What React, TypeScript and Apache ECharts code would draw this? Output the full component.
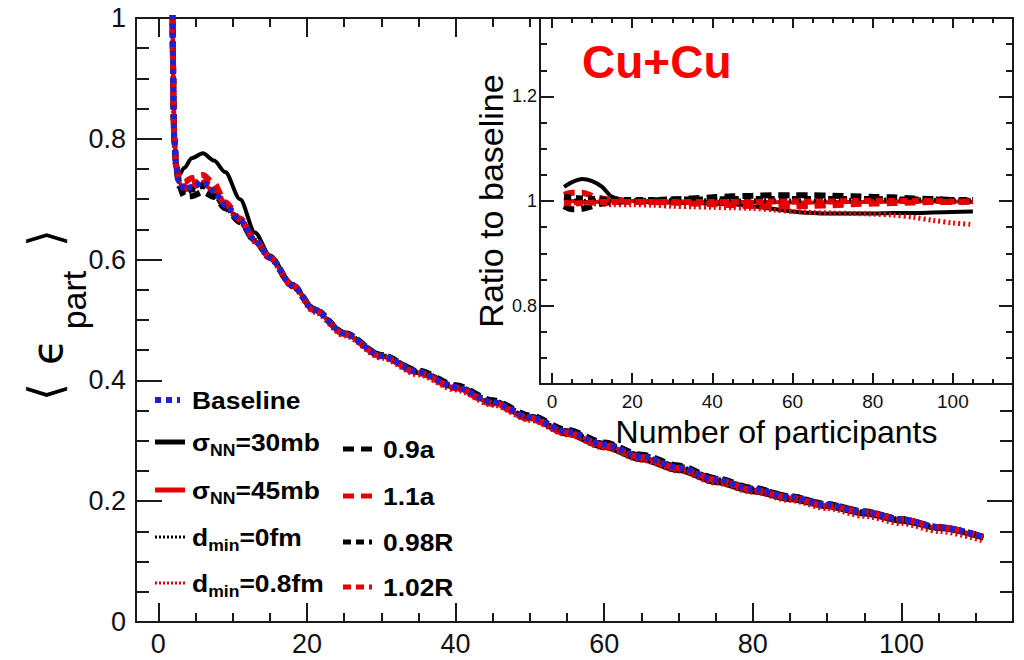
import React, { useEffect, useRef } from 'react';
import * as echarts from 'echarts';

// ---------- data ----------
const MAIN_X = [1.9, 2.15, 2.4, 2.8, 3.5, 4.5, 6, 7.5, 9, 11, 13, 15, 18, 21, 25, 30, 35, 40, 45, 50, 55, 60, 65, 70, 75, 80, 85, 90, 95, 100, 105, 111];
const MAIN_BASELINE = [1.02, 0.8, 0.755, 0.73, 0.716, 0.72, 0.728, 0.713, 0.69, 0.665, 0.632, 0.604, 0.558, 0.517, 0.478, 0.441, 0.414, 0.389, 0.364, 0.339, 0.315, 0.294, 0.274, 0.256, 0.236, 0.22, 0.207, 0.194, 0.182, 0.17, 0.157, 0.141];
const MAIN_SNN30 = [1.02, 0.8, 0.757, 0.74, 0.752, 0.768, 0.776, 0.764, 0.745, 0.7, 0.645, 0.607, 0.56, 0.517, 0.477, 0.44, 0.412, 0.387, 0.362, 0.336, 0.31, 0.288, 0.268, 0.25, 0.23, 0.215, 0.202, 0.19, 0.178, 0.166, 0.154, 0.138];
const MAIN_SNN45 = [1.02, 0.8, 0.755, 0.728, 0.714, 0.718, 0.726, 0.712, 0.689, 0.664, 0.631, 0.603, 0.557, 0.516, 0.477, 0.44, 0.413, 0.388, 0.363, 0.338, 0.314, 0.293, 0.273, 0.255, 0.235, 0.219, 0.206, 0.193, 0.181, 0.169, 0.156, 0.14];
const MAIN_DMIN0 = [1.02, 0.8, 0.755, 0.729, 0.715, 0.72, 0.727, 0.713, 0.69, 0.665, 0.632, 0.604, 0.558, 0.517, 0.478, 0.441, 0.414, 0.389, 0.364, 0.339, 0.315, 0.294, 0.274, 0.256, 0.236, 0.22, 0.207, 0.194, 0.182, 0.17, 0.157, 0.141];
const MAIN_DMIN08 = [1.02, 0.8, 0.755, 0.73, 0.716, 0.721, 0.728, 0.712, 0.688, 0.662, 0.629, 0.601, 0.555, 0.513, 0.474, 0.437, 0.409, 0.384, 0.359, 0.334, 0.31, 0.288, 0.268, 0.25, 0.23, 0.215, 0.201, 0.188, 0.175, 0.163, 0.15, 0.134];
const MAIN_A09 = [1.02, 0.8, 0.752, 0.722, 0.704, 0.705, 0.712, 0.704, 0.685, 0.662, 0.631, 0.603, 0.557, 0.517, 0.478, 0.442, 0.416, 0.392, 0.367, 0.342, 0.318, 0.297, 0.277, 0.259, 0.238, 0.222, 0.208, 0.195, 0.183, 0.17, 0.157, 0.141];
const MAIN_A11 = [1.02, 0.8, 0.757, 0.735, 0.728, 0.735, 0.74, 0.726, 0.695, 0.668, 0.633, 0.604, 0.558, 0.517, 0.477, 0.44, 0.412, 0.387, 0.361, 0.336, 0.312, 0.291, 0.272, 0.254, 0.235, 0.219, 0.206, 0.193, 0.182, 0.17, 0.157, 0.141];
const MAIN_R098 = [1.02, 0.8, 0.755, 0.727, 0.712, 0.716, 0.722, 0.709, 0.688, 0.664, 0.632, 0.604, 0.558, 0.518, 0.479, 0.442, 0.415, 0.39, 0.365, 0.34, 0.316, 0.295, 0.275, 0.257, 0.237, 0.221, 0.208, 0.195, 0.183, 0.17, 0.157, 0.141];
const MAIN_R102 = [1.02, 0.8, 0.756, 0.732, 0.72, 0.725, 0.732, 0.717, 0.692, 0.666, 0.632, 0.604, 0.558, 0.516, 0.477, 0.44, 0.413, 0.388, 0.363, 0.338, 0.314, 0.293, 0.273, 0.255, 0.236, 0.219, 0.206, 0.193, 0.182, 0.17, 0.157, 0.141];

const RATIO_X = [3, 5, 7.5, 10, 12.5, 15, 20, 25, 30, 35, 40, 45, 50, 55, 60, 65, 70, 75, 80, 85, 90, 95, 100, 105];
const RATIO_SNN30 = [1.027, 1.036, 1.042, 1.038, 1.027, 1.008, 1.0, 0.998, 0.997, 0.996, 0.995, 0.994, 0.99, 0.985, 0.98, 0.977, 0.976, 0.976, 0.976, 0.977, 0.977, 0.978, 0.979, 0.98];
const RATIO_SNN45 = [1.003, 1.0, 0.998, 0.998, 0.999, 1.0, 1.0, 1.0, 0.999, 0.999, 0.998, 0.998, 0.998, 0.998, 0.997, 0.997, 0.998, 0.998, 0.998, 0.999, 0.999, 0.999, 0.999, 0.998];
const RATIO_DMIN0 = [1.0, 1.0, 0.999, 1.0, 1.0, 1.0, 1.0, 1.0, 1.001, 1.001, 1.0, 1.0, 1.0, 1.0, 1.0, 1.0, 1.0, 1.001, 1.001, 1.002, 1.002, 1.001, 1.0, 1.0];
const RATIO_DMIN08 = [0.998, 0.997, 0.996, 0.995, 0.994, 0.993, 0.993, 0.992, 0.99, 0.989, 0.988, 0.987, 0.986, 0.983, 0.98, 0.978, 0.977, 0.976, 0.975, 0.973, 0.969, 0.963, 0.958, 0.955];
const RATIO_A09 = [0.99, 0.984, 0.985, 0.99, 0.995, 0.998, 1.0, 1.001, 1.003, 1.005, 1.007, 1.009, 1.01, 1.011, 1.011, 1.011, 1.01, 1.009, 1.008, 1.007, 1.005, 1.004, 1.002, 1.0];
const RATIO_A11 = [1.012, 1.016, 1.016, 1.01, 1.005, 1.002, 1.0, 0.998, 0.997, 0.995, 0.994, 0.992, 0.99, 0.99, 0.99, 0.991, 0.992, 0.994, 0.995, 0.996, 0.997, 0.998, 0.998, 0.999];
const RATIO_R098 = [1.008, 1.006, 1.005, 1.004, 1.003, 1.002, 1.002, 1.002, 1.003, 1.003, 1.003, 1.004, 1.004, 1.004, 1.004, 1.004, 1.004, 1.004, 1.004, 1.003, 1.003, 1.003, 1.002, 1.002];
const RATIO_R102 = [0.996, 0.995, 0.996, 0.997, 0.998, 0.998, 0.998, 0.998, 0.998, 0.998, 0.998, 0.998, 0.998, 0.999, 0.999, 0.999, 0.999, 1.0, 1.0, 1.0, 1.0, 1.0, 0.999, 0.999];

// tick positions / labels
const MAIN_X_MAJOR = [0, 20, 40, 60, 80, 100];
const MAIN_X_MINOR = [5, 10, 15, 25, 30, 35, 45, 50, 55, 65, 70, 75, 85, 90, 95, 105, 110];
const MAIN_X_TOP_MAJOR = [0, 20, 40];
const MAIN_X_TOP_MINOR = [5, 10, 15, 25, 30, 35, 45, 50];
const MAIN_Y_MAJOR = [0, 0.2, 0.4, 0.6, 0.8, 1];
const MAIN_Y_MINOR = [0.05, 0.1, 0.15, 0.25, 0.3, 0.35, 0.45, 0.5, 0.55, 0.65, 0.7, 0.75, 0.85, 0.9, 0.95];
const MAIN_Y_RIGHT_MAJOR = [0.2];
const MAIN_Y_RIGHT_MINOR = [0.05, 0.1, 0.15, 0.25, 0.3, 0.35];
const INSET_X_MAJOR = [0, 20, 40, 60, 80, 100];
const INSET_X_MINOR = [5, 10, 15, 25, 30, 35, 45, 50, 55, 65, 70, 75, 85, 90, 95, 105, 110];
const INSET_Y_MAJOR = [0.8, 1, 1.2];
const INSET_Y_MINOR = [0.7, 0.75, 0.85, 0.9, 0.95, 1.05, 1.1, 1.15, 1.25, 1.3];

const INSET_TITLE = 'Cu+Cu';
const INSET_X_NAME = 'Number of participants';
const INSET_Y_NAME = 'Ratio to baseline';

// legend texts: [text, isSubscript]
const LEG_BASE: [string, boolean][] = [['Baseline', false]];
const LEG_SNN30: [string, boolean][] = [['σ', false], ['NN', true], ['=30mb', false]];
const LEG_SNN45: [string, boolean][] = [['σ', false], ['NN', true], ['=45mb', false]];
const LEG_DMIN0: [string, boolean][] = [['d', false], ['min', true], ['=0fm', false]];
const LEG_DMIN08: [string, boolean][] = [['d', false], ['min', true], ['=0.8fm', false]];
const LEG_A09: [string, boolean][] = [['0.9a', false]];
const LEG_A11: [string, boolean][] = [['1.1a', false]];
const LEG_R098: [string, boolean][] = [['0.98R', false]];
const LEG_R102: [string, boolean][] = [['1.02R', false]];

const BLACK = '#000000';
const RED = '#e60000';
const BLUE = '#1f1fd6';
const AX = '#1a1a1a';

type Spec = {
  main: number[]; ratio: number[] | null; color: string; width: number; dash: any;
  leg: [string, boolean][]; col: number; row: number; legWidth: number; legDash: any;
};

const SPECS: Spec[] = [
  { main: MAIN_SNN30, ratio: RATIO_SNN30, color: BLACK, width: 4, dash: 'solid', leg: LEG_SNN30, col: 0, row: 1, legWidth: 5, legDash: 'solid' },
  { main: MAIN_SNN45, ratio: RATIO_SNN45, color: RED, width: 4, dash: 'solid', leg: LEG_SNN45, col: 0, row: 2, legWidth: 5, legDash: 'solid' },
  { main: MAIN_DMIN0, ratio: RATIO_DMIN0, color: BLACK, width: 5, dash: [2, 3], leg: LEG_DMIN0, col: 0, row: 3, legWidth: 3, legDash: [2, 2] },
  { main: MAIN_DMIN08, ratio: RATIO_DMIN08, color: RED, width: 5, dash: [2, 3], leg: LEG_DMIN08, col: 0, row: 4, legWidth: 3, legDash: [2, 2] },
  { main: MAIN_A09, ratio: RATIO_A09, color: BLACK, width: 6, dash: [11, 7], leg: LEG_A09, col: 1, row: 0, legWidth: 5, legDash: [11, 7] },
  { main: MAIN_A11, ratio: RATIO_A11, color: RED, width: 6, dash: [11, 7], leg: LEG_A11, col: 1, row: 1, legWidth: 5, legDash: [11, 7] },
  { main: MAIN_R098, ratio: RATIO_R098, color: BLACK, width: 6, dash: [7, 5], leg: LEG_R098, col: 1, row: 2, legWidth: 5, legDash: [8, 5] },
  { main: MAIN_R102, ratio: RATIO_R102, color: RED, width: 6, dash: [7, 5], leg: LEG_R102, col: 1, row: 3, legWidth: 5, legDash: [8, 5] },
  { main: MAIN_BASELINE, ratio: null, color: BLUE, width: 6, dash: [5, 4], leg: LEG_BASE, col: 0, row: 0, legWidth: 6, legDash: [6, 5] },
];

const FONT = 'Liberation Sans';
const LEG_SCALE = 1.1;

function valueAxis(o: any) {
  return {
    type: 'value',
    splitLine: { show: false },
    axisLine: { show: false, onZero: false, lineStyle: { color: AX, width: 2 } },
    axisLabel: { show: false },
    ...o,
  };
}
function ticks(values: number[], length: number) {
  return { show: true, inside: true, length, customValues: values, lineStyle: { color: AX, width: 2 } };
}

export default function App() {
  const ref = useRef<HTMLDivElement>(null);
  useEffect(() => {
    if (!ref.current) return;
    const chart = echarts.init(ref.current, undefined, { renderer: 'svg' });

    const ctx = document.createElement('canvas').getContext('2d')!;
    const measure = (t: string, size: number) => {
      ctx.font = `bold ${size}px "${FONT}"`;
      return ctx.measureText(t).width;
    };

    const colDefs = [
      { x1: 155, x2: 185, tx: 192, ys: [400, 442, 490, 537, 583] },
      { x1: 343, x2: 372, tx: 383, ys: [449, 496, 542, 587] },
    ];
    const graphics: any[] = [];
    SPECS.forEach((s) => {
      const c = colDefs[s.col];
      const yc = c.ys[s.row];
      const x2 = s.leg === LEG_BASE ? 180 : c.x2;
      graphics.push({
        type: 'line', z: 100,
        shape: { x1: c.x1, y1: yc, x2, y2: yc },
        style: { stroke: s.color, lineWidth: s.legWidth, lineDash: s.legDash === 'solid' ? null : s.legDash },
      });
      let x = c.tx;
      s.leg.forEach(([t, sub]) => {
        const size = sub ? 16 : 24;
        graphics.push({
          type: 'text', z: 100, x, y: sub ? yc + 9 : yc, scaleX: LEG_SCALE,
          style: { text: t, fontSize: size, fontWeight: 'bold', fontFamily: FONT, fill: '#000', align: 'left', verticalAlign: 'middle' },
        });
        x += measure(t, size) * LEG_SCALE;
      });
    });

    // y axis title  < eps_part >
    graphics.push({
      type: 'group', x: 47, y: 318, rotation: Math.PI / 2, z: 100,
      children: [
        { type: 'text', x: -74, y: -2, style: { text: '⟨', fontSize: 46, fontFamily: 'DejaVu Sans', fill: '#000', align: 'center', verticalAlign: 'middle' } },
        { type: 'text', x: -34, y: 0, style: { text: 'ϵ', fontSize: 42, fontFamily: 'DejaVu Sans', fill: '#000', align: 'center', verticalAlign: 'middle' } },
        { type: 'text', x: 18, y: 27, style: { text: 'part', fontSize: 34, fontFamily: FONT, fill: '#000', align: 'center', verticalAlign: 'middle' } },
        { type: 'text', x: 80, y: -2, style: { text: '⟩', fontSize: 46, fontFamily: 'DejaVu Sans', fill: '#000', align: 'center', verticalAlign: 'middle' } },
      ],
    });
    graphics.push({
      type: 'text', z: 100, x: 582, y: 62,
      style: { text: INSET_TITLE, fontSize: 46, fontWeight: 'bold', fontFamily: FONT, fill: '#ff0000', align: 'left', verticalAlign: 'middle' },
    });

    const labelStyle = (size: number, margin: number, values: number[]) => ({
      show: true, customValues: values, fontSize: size, color: '#111', margin, fontFamily: FONT,
    });

    const xAxes = [
      // main grid
      valueAxis({ gridIndex: 0, position: 'bottom', min: -3, max: 115, axisLine: { show: true, onZero: false, lineStyle: { color: AX, width: 2 } }, axisTick: ticks(MAIN_X_MAJOR, 19), axisLabel: labelStyle(27, 8, MAIN_X_MAJOR) }),
      valueAxis({ gridIndex: 0, position: 'bottom', min: -3, max: 115, axisTick: ticks(MAIN_X_MINOR, 9) }),
      valueAxis({ gridIndex: 0, position: 'top', min: -3, max: 115, axisLine: { show: true, onZero: false, lineStyle: { color: AX, width: 2 } }, axisTick: ticks(MAIN_X_TOP_MAJOR, 19) }),
      valueAxis({ gridIndex: 0, position: 'top', min: -3, max: 115, axisTick: ticks(MAIN_X_TOP_MINOR, 9) }),
      // inset grid
      valueAxis({
        gridIndex: 1, position: 'bottom', min: -3, max: 115,
        axisLine: { show: true, onZero: false, lineStyle: { color: AX, width: 2 } }, axisTick: ticks(INSET_X_MAJOR, 11), axisLabel: labelStyle(19, 8, INSET_X_MAJOR),
        name: INSET_X_NAME, nameLocation: 'middle', nameGap: 22, nameTextStyle: { fontSize: 32, color: '#000', fontFamily: FONT },
      }),
      valueAxis({ gridIndex: 1, position: 'bottom', min: -3, max: 115, axisTick: ticks(INSET_X_MINOR, 5) }),
      valueAxis({ gridIndex: 1, position: 'top', min: -3, max: 115, axisLine: { show: true, onZero: false, lineStyle: { color: AX, width: 2 } }, axisTick: ticks(INSET_X_MAJOR, 10) }),
      valueAxis({ gridIndex: 1, position: 'top', min: -3, max: 115, axisTick: ticks(INSET_X_MINOR, 5) }),
    ];
    const yAxes = [
      valueAxis({ gridIndex: 0, position: 'left', min: 0, max: 1, axisLine: { show: true, onZero: false, lineStyle: { color: AX, width: 2 } }, axisTick: ticks(MAIN_Y_MAJOR, 26), axisLabel: labelStyle(27, 10, MAIN_Y_MAJOR) }),
      valueAxis({ gridIndex: 0, position: 'left', min: 0, max: 1, axisTick: ticks(MAIN_Y_MINOR, 13) }),
      valueAxis({ gridIndex: 0, position: 'right', min: 0, max: 1, axisLine: { show: true, onZero: false, lineStyle: { color: AX, width: 2 } }, axisTick: ticks(MAIN_Y_RIGHT_MAJOR, 26) }),
      valueAxis({ gridIndex: 0, position: 'right', min: 0, max: 1, axisTick: ticks(MAIN_Y_RIGHT_MINOR, 13) }),
      valueAxis({
        gridIndex: 1, position: 'left', min: 0.65, max: 1.35,
        axisLine: { show: true, onZero: false, lineStyle: { color: AX, width: 2 } }, axisTick: ticks(INSET_Y_MAJOR, 14), axisLabel: labelStyle(18, 3, INSET_Y_MAJOR),
        name: INSET_Y_NAME, nameLocation: 'middle', nameGap: 23, nameTextStyle: { fontSize: 34, color: '#000', fontFamily: FONT },
      }),
      valueAxis({ gridIndex: 1, position: 'left', min: 0.65, max: 1.35, axisTick: ticks(INSET_Y_MINOR, 7) }),
      valueAxis({ gridIndex: 1, position: 'right', min: 0.65, max: 1.35, axisLine: { show: true, onZero: false, lineStyle: { color: AX, width: 2 } }, axisTick: ticks(INSET_Y_MAJOR, 14) }),
      valueAxis({ gridIndex: 1, position: 'right', min: 0.65, max: 1.35, axisTick: ticks(INSET_Y_MINOR, 7) }),
    ];

    const series: any[] = [];
    SPECS.forEach((s) => {
      series.push({
        type: 'line', xAxisIndex: 0, yAxisIndex: 0, showSymbol: false, smooth: 0.3, smoothMonotone: 'x', clip: true,
        data: MAIN_X.map((x, i) => [x, s.main[i]]),
        lineStyle: { color: s.color, width: s.width, type: s.dash, cap: 'butt' },
      });
    });
    SPECS.forEach((s) => {
      if (!s.ratio) return;
      const r = s.ratio;
      series.push({
        type: 'line', xAxisIndex: 4, yAxisIndex: 4, showSymbol: false, smooth: 0.3, clip: true,
        data: RATIO_X.map((x, i) => [x, r[i]]),
        lineStyle: { color: s.color, width: s.width, type: s.dash, cap: 'butt' },
      });
    });

    chart.setOption({
      animation: false,
      backgroundColor: '#ffffff',
      textStyle: { fontFamily: FONT },
      grid: [
        { left: 136, top: 18, width: 877, height: 604, containLabel: false, show: false },
        { left: 540, top: 18, width: 473, height: 366, containLabel: false, show: true, backgroundColor: '#ffffff', borderWidth: 0 },
      ],
      xAxis: xAxes,
      yAxis: yAxes,
      series,
      graphic: graphics,
    });
    return () => chart.dispose();
  }, []);
  return <div ref={ref} style={{ position: 'fixed', left: 0, top: 0, width: 1024, height: 660 }} />;
}
